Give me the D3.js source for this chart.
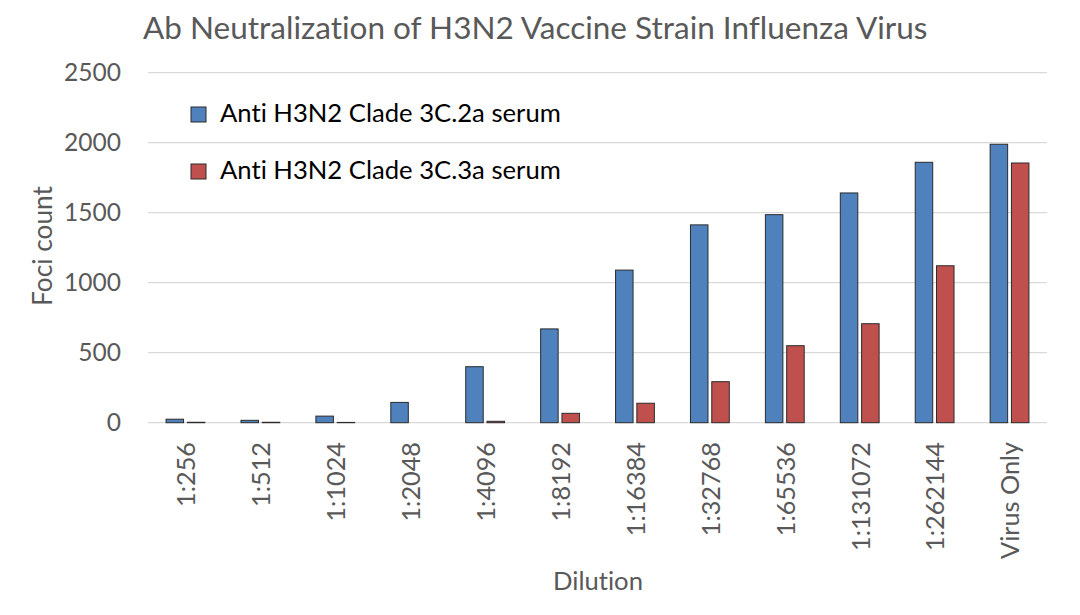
<!DOCTYPE html>
<html><head><meta charset="utf-8">
<script src="https://cdn.jsdelivr.net/npm/d3@7"></script>
<style>body{margin:0;background:#fff}svg{display:block}text{font-family:Lato,"Open Sans",sans-serif;fill:#595959;font-variant-ligatures:none;font-feature-settings:"liga" 0,"clig" 0}</style>
</head><body><svg id="c" width="1080" height="615"></svg>
<script>
const categories = ["1:256","1:512","1:1024","1:2048","1:4096","1:8192","1:16384","1:32768","1:65536","1:131072","1:262144","Virus Only"];
const seriesNames = ["Anti H3N2 Clade 3C.2a serum","Anti H3N2 Clade 3C.3a serum"];
const clade2a = [25,17,47,145,400,670,1090,1413,1486,1641,1860,1989];
const clade3a = [3,3,2,0,10,67,139,293,550,707,1121,1855];
const yTicks = [0,500,1000,1500,2000,2500];
const colors = ["#4f81bd","#c0504d"];

const svg = d3.select("#c");
const x = d3.scaleBand().domain(categories).range([148,1047]).paddingInner(0).paddingOuter(0);
const y = d3.scaleLinear().domain([0,2500]).range([422.7,72.7]);
const bw = 17.5, gap = 3.8;

// font size that makes a sample string a given width
function fitSize(sample, width){
  const t = svg.append("text").attr("font-size",100).text(sample);
  const w = t.node().getComputedTextLength(); t.remove();
  return 100*width/w;
}
const tickSize = fitSize("2500",57);
const xLabSize = fitSize("Virus Only",117);

svg.append("g").selectAll("line").data(yTicks).join("line")
  .attr("x1",148).attr("x2",1047).attr("y1",d=>y(d)).attr("y2",d=>y(d))
  .attr("stroke","#d9d9d9").attr("stroke-width",1.2);

svg.append("g").selectAll("text").data(yTicks).join("text")
  .attr("x",121).attr("y",d=>y(d)).attr("dy","0.35em").attr("text-anchor","end")
  .attr("font-size",tickSize).text(d=>d);

const series = [clade2a, clade3a];
series.forEach((vals,si)=>{
  svg.append("g").selectAll("rect").data(categories).join("rect")
    .attr("x",d=>x(d)+x.bandwidth()/2 + (si===0 ? -(bw+gap/2) : gap/2))
    .attr("width",bw)
    .attr("y",(d,i)=>y(vals[i]))
    .attr("height",(d,i)=>y(0)-y(vals[i]))
    .attr("fill",colors[si]).attr("stroke","#2b2b2b").attr("stroke-width",1);
});

svg.append("g").selectAll("text").data(categories).join("text")
  .attr("transform",d=>`translate(${x(d)+x.bandwidth()/2+1},442) rotate(-90)`)
  .attr("text-anchor","end").attr("dy","0.35em").attr("font-size",xLabSize).text(d=>d);

const title = "Ab Neutralization of H3N2 Vaccine Strain Influenza Virus";
svg.append("text").attr("x",143).attr("y",39).attr("font-size",fitSize(title,785)).text(title);
svg.append("text").attr("transform","translate(52,246) rotate(-90)").attr("text-anchor","middle").attr("font-size",fitSize("Foci count",120)).text("Foci count");
svg.append("text").attr("x",598).attr("y",590).attr("text-anchor","middle").attr("font-size",fitSize("Dilution",90)).text("Dilution");

const legSize = fitSize(seriesNames[0],341);
const leg = svg.append("g");
seriesNames.forEach((n,i)=>{
  const yy = 107 + i*57;
  leg.append("rect").attr("x",191).attr("y",yy).attr("width",15).attr("height",15).attr("fill",colors[i]).attr("stroke","#2b2b2b").attr("stroke-width",1);
  leg.append("text").attr("x",220).attr("y",yy+15).attr("font-size",legSize).style("fill","#000").text(n);
});
</script></body></html>
